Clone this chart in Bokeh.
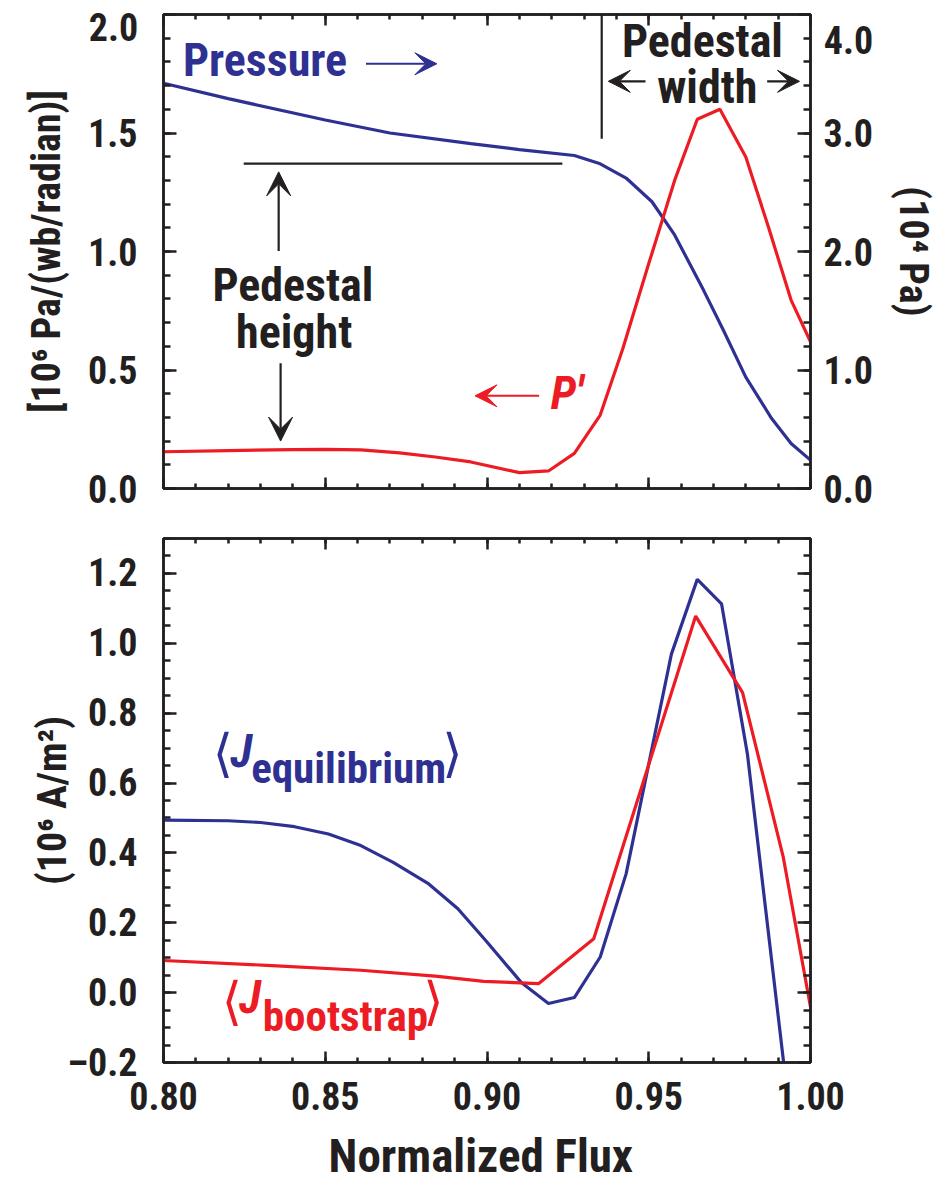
from bokeh.plotting import figure
from bokeh.models import (Range1d, LinearAxis, FixedTicker, Arrow, VeeHead,
                          CustomLabelingPolicy)
from bokeh.core.properties import value
from bokeh.layouts import column
from bokeh.embed import file_html
from bokeh.resources import INLINE
import numpy as np

# ---------------- data ----------------
# top panel: pressure (right axis, 10^4 Pa)
pressure_x = [0.800, 0.820, 0.850, 0.870, 0.895, 0.910, 0.927, 0.935, 0.943, 0.951,
              0.958, 0.967, 0.973, 0.980, 0.988, 0.994, 1.000]
pressure_val = [3.42, 3.29, 3.11, 3.00, 2.91, 2.86, 2.81, 2.74, 2.62, 2.42,
                2.14, 1.67, 1.34, 0.94, 0.59, 0.38, 0.24]

# top panel: P' (left axis, 10^6 Pa/(wb/radian))
dp_x = [0.800, 0.820, 0.840, 0.850, 0.861, 0.873, 0.884, 0.895, 0.910, 0.919,
        0.927, 0.935, 0.942, 0.950, 0.958, 0.965, 0.972, 0.980, 0.987, 0.994, 1.000]
dp_val = [0.155, 0.160, 0.164, 0.165, 0.163, 0.150, 0.133, 0.112, 0.067, 0.074,
          0.148, 0.310, 0.591, 0.949, 1.300, 1.558, 1.600, 1.399, 1.103, 0.795, 0.619]

# bottom panel: <J equilibrium> (10^6 A/m^2)
jeq_x = [0.800, 0.820, 0.830, 0.8405, 0.851, 0.861, 0.871, 0.882, 0.891, 0.900,
         0.9105, 0.919, 0.927, 0.935, 0.943, 0.957, 0.965, 0.9725, 0.9805, 0.9955]
jeq_val = [0.494, 0.492, 0.487, 0.475, 0.454, 0.421, 0.373, 0.311, 0.240, 0.145,
           0.030, -0.031, -0.014, 0.102, 0.340, 0.969, 1.183, 1.113, 0.683, -0.50]

# bottom panel: <J bootstrap> (10^6 A/m^2)
jbs_x = [0.800, 0.832, 0.861, 0.884, 0.899, 0.916, 0.933, 0.9645, 0.979, 0.9916, 1.000]
jbs_val = [0.092, 0.078, 0.064, 0.047, 0.032, 0.026, 0.154, 1.078, 0.859, 0.387, -0.041]

# ticks and tick labels
x_ticks = [0.80, 0.85, 0.90, 0.95, 1.00]
x_tick_labels = ["0.80", "0.85", "0.90", "0.95", "1.00"]
top_left_ticks = [0.0, 0.5, 1.0, 1.5, 2.0]
top_left_labels = ["0.0", "0.5", "1.0", "1.5", "2.0"]
top_right_ticks = [0.0, 1.0, 2.0, 3.0, 4.0]
top_right_labels = ["0.0", "1.0", "2.0", "3.0", "4.0"]
bot_ticks = [-0.2, 0.0, 0.2, 0.4, 0.6, 0.8, 1.0, 1.2]
bot_labels = ["\u20130.2", "0.0", "0.2", "0.4", "0.6", "0.8", "1.0", "1.2"]
x_title = "Normalized Flux"

# ---------------- style ----------------
FONT = "Roboto Condensed, Liberation Sans Narrow, DejaVu Sans Condensed, Liberation Sans, sans-serif"
BLACK = "#231f20"
BLUE = "#2e3192"
RED = "#ed1c24"
TICK_SIZE = "38px"

x_minor = list(np.round(np.arange(0.80, 1.0001, 0.01), 3))
tl_minor = list(np.round(np.arange(0.0, 2.0001, 0.1), 3))
tr_minor = list(np.round(np.arange(0.0, 4.0001, 0.2), 3))
b_minor = list(np.round(np.arange(-0.2, 1.3001, 0.05), 3))


def style_axis(ax, ticks, minor, labels, major_in, minor_in, show="all", standoff=0):
    ax.ticker = FixedTicker(ticks=ticks, minor_ticks=minor)
    ax.major_label_overrides = dict(zip(ticks, labels))
    ax.axis_line_color = BLACK
    ax.axis_line_width = 2.5
    ax.major_tick_in = major_in
    ax.major_tick_out = 0
    ax.minor_tick_in = minor_in
    ax.minor_tick_out = 0
    ax.major_tick_line_width = 2.5
    ax.minor_tick_line_width = 2.5
    ax.major_tick_line_color = BLACK
    ax.minor_tick_line_color = BLACK
    ax.major_label_text_font = FONT
    ax.major_label_text_font_style = "bold"
    ax.major_label_text_color = BLACK
    ax.major_label_text_font_size = TICK_SIZE
    ax.major_label_standoff = standoff
    if show == "none":
        ax.major_label_policy = CustomLabelingPolicy(code="return [];")
        ax.major_label_text_font_size = "2px"
        ax.major_label_standoff = 0
    elif show == "drop_last":
        ax.major_label_policy = CustomLabelingPolicy(
            code="const a = Array.from(indices); a.pop(); return a;")
    ax.axis_label_text_font = FONT
    ax.axis_label_text_font_style = "bold"
    ax.axis_label_text_color = BLACK
    ax.axis_label_text_font_size = "40px"


def base_fig(height, y_range, top, bottom):
    p = figure(width=951, height=height, x_range=Range1d(0.8, 1.0), y_range=y_range,
               output_backend="svg", toolbar_location=None,
               min_border_left=163, min_border_right=141,
               min_border_top=top, min_border_bottom=bottom)
    p.xgrid.grid_line_color = None
    p.ygrid.grid_line_color = None
    p.outline_line_color = BLACK
    p.outline_line_width = 2.5
    p.background_fill_color = "white"
    p.border_fill_color = "white"
    return p


def text(p, s, x, y, color, size, align="left", style="bold", font=FONT, baseline="alphabetic"):
    p.text(x=[x], y=[y], text=[s], text_font=value(font), text_font_size=size,
           text_font_style=style, text_color=color, text_align=align,
           text_baseline=baseline, level="overlay")


def arrow(p, x0, y0, x1, y1, color, width=2.5, size=22):
    p.add_layout(Arrow(end=VeeHead(size=size, fill_color=color, line_color=color, line_width=1),
                       x_start=x0, y_start=y0, x_end=x1, y_end=y1,
                       line_color=color, line_width=width))


# ---------------- top panel ----------------
p1 = base_fig(513, Range1d(0.0, 2.0), 14, 25)
p1.extra_y_ranges = {"pres": Range1d(0.0, 4.0)}

style_axis(p1.xaxis[0], x_ticks, x_minor, x_tick_labels, 11, 5, show="none")
style_axis(p1.yaxis[0], top_left_ticks, tl_minor, top_left_labels, 13, 7,
           show="drop_last", standoff=26)
p1.yaxis[0].axis_label = "[10\u2076 Pa/(wb/radian)]"
p1.yaxis[0].axis_label_standoff = 15

ax_top = LinearAxis()
style_axis(ax_top, x_ticks, x_minor, x_tick_labels, 11, 5, show="none")
p1.add_layout(ax_top, "above")

ax_r = LinearAxis(y_range_name="pres")
style_axis(ax_r, top_right_ticks, tr_minor, top_right_labels, 13, 7,
           show="drop_last", standoff=13)
ax_r.axis_label = "(10\u2074 Pa)"
ax_r.axis_label_standoff = 14
p1.add_layout(ax_r, "right")

# top tick labels, pushed inside the panel height as in the original
text(p1, top_left_labels[-1], 0.79219, 1.948, BLACK, TICK_SIZE, align="right")
text(p1, top_right_labels[-1], 1.0041, 1.892, BLACK, TICK_SIZE, align="left")

p1.line(pressure_x, pressure_val, y_range_name="pres", line_color=BLUE, line_width=3.2)
p1.line(dp_x, dp_val, line_color=RED, line_width=3.2)

# annotations (top)
ped_h_line_x = [0.8248, 0.9233]
ped_h_line_y = [1.371, 1.371]
p1.line(ped_h_line_x, ped_h_line_y, line_color=BLACK, line_width=2.2)
ped_w_line_x = [0.93546, 0.93546]
ped_w_line_y = [1.476, 2.0]
p1.line(ped_w_line_x, ped_w_line_y, line_color=BLACK, line_width=2.2)

arrow(p1, 0.8356, 1.002, 0.8356, 1.336, BLACK, width=2.2, size=24)
arrow(p1, 0.8362, 0.528, 0.8362, 0.200, BLACK, width=2.2, size=24)
text(p1, "Pedestal", 0.8400, 0.857, BLACK, "46px", align="center")
text(p1, "height", 0.8404, 0.661, BLACK, "46px", align="center")

text(p1, "Pedestal", 0.9666, 1.890, BLACK, "46px", align="center")
text(p1, "width", 0.9681, 1.694, BLACK, "46px", align="center")
arrow(p1, 0.9490, 1.718, 0.9375, 1.718, BLACK, width=2.2, size=22)
arrow(p1, 0.9866, 1.718, 0.9966, 1.718, BLACK, width=2.2, size=22)

text(p1, "Pressure", 0.806, 1.806, BLUE, "46px")
arrow(p1, 0.8626, 1.792, 0.8845, 1.792, BLUE, width=2, size=22)

text(p1, "P\u2032", 0.9197, 0.401, RED, "46px", style="bold italic")
arrow(p1, 0.9161, 0.391, 0.8963, 0.391, RED, width=2, size=22)

# ---------------- bottom panel ----------------
p2 = base_fig(672, Range1d(-0.2, 1.3), 25, 123)

style_axis(p2.xaxis[0], x_ticks, x_minor, x_tick_labels, 11, 5, standoff=19)

style_axis(p2.yaxis[0], bot_ticks, b_minor, bot_labels, 13, 7, standoff=26)
p2.yaxis[0].axis_label = "(10\u2076 A/m\u00b2)"
p2.yaxis[0].axis_label_standoff = -12

ax_top2 = LinearAxis()
style_axis(ax_top2, x_ticks, x_minor, x_tick_labels, 11, 5, show="none")
p2.add_layout(ax_top2, "above")

ax_r2 = LinearAxis()
style_axis(ax_r2, bot_ticks, b_minor, bot_labels, 13, 7, show="none")
p2.add_layout(ax_r2, "right")

# x-axis title, drawn below the bottom panel
text(p2, x_title, 0.8981, -0.4663, BLACK, "47px", align="center")

p2.line(jeq_x, jeq_val, line_color=BLUE, line_width=3.2)
p2.line(jbs_x, jbs_val, line_color=RED, line_width=3.2)

# <J equilibrium>
text(p2, "\u27e8", 0.81525, 0.685, BLUE, "52px", style="normal", font="DejaVu Sans")
text(p2, "J", 0.8206, 0.692, BLUE, "46px", style="bold italic")
text(p2, "equilibrium", 0.8271, 0.643, BLUE, "43px")
text(p2, "\u27e9", 0.8862, 0.685, BLUE, "52px", style="normal", font="DejaVu Sans")

# <J bootstrap>
text(p2, "\u27e8", 0.8180, -0.024, RED, "52px", style="normal", font="DejaVu Sans")
text(p2, "J", 0.8233, -0.013, RED, "46px", style="bold italic")
text(p2, "bootstrap", 0.8307, -0.068, RED, "43px")
text(p2, "\u27e9", 0.8803, -0.024, RED, "52px", style="normal", font="DejaVu Sans")

layout = column(p1, p2, spacing=0)
open("out.html", "w").write(file_html(layout, INLINE))
